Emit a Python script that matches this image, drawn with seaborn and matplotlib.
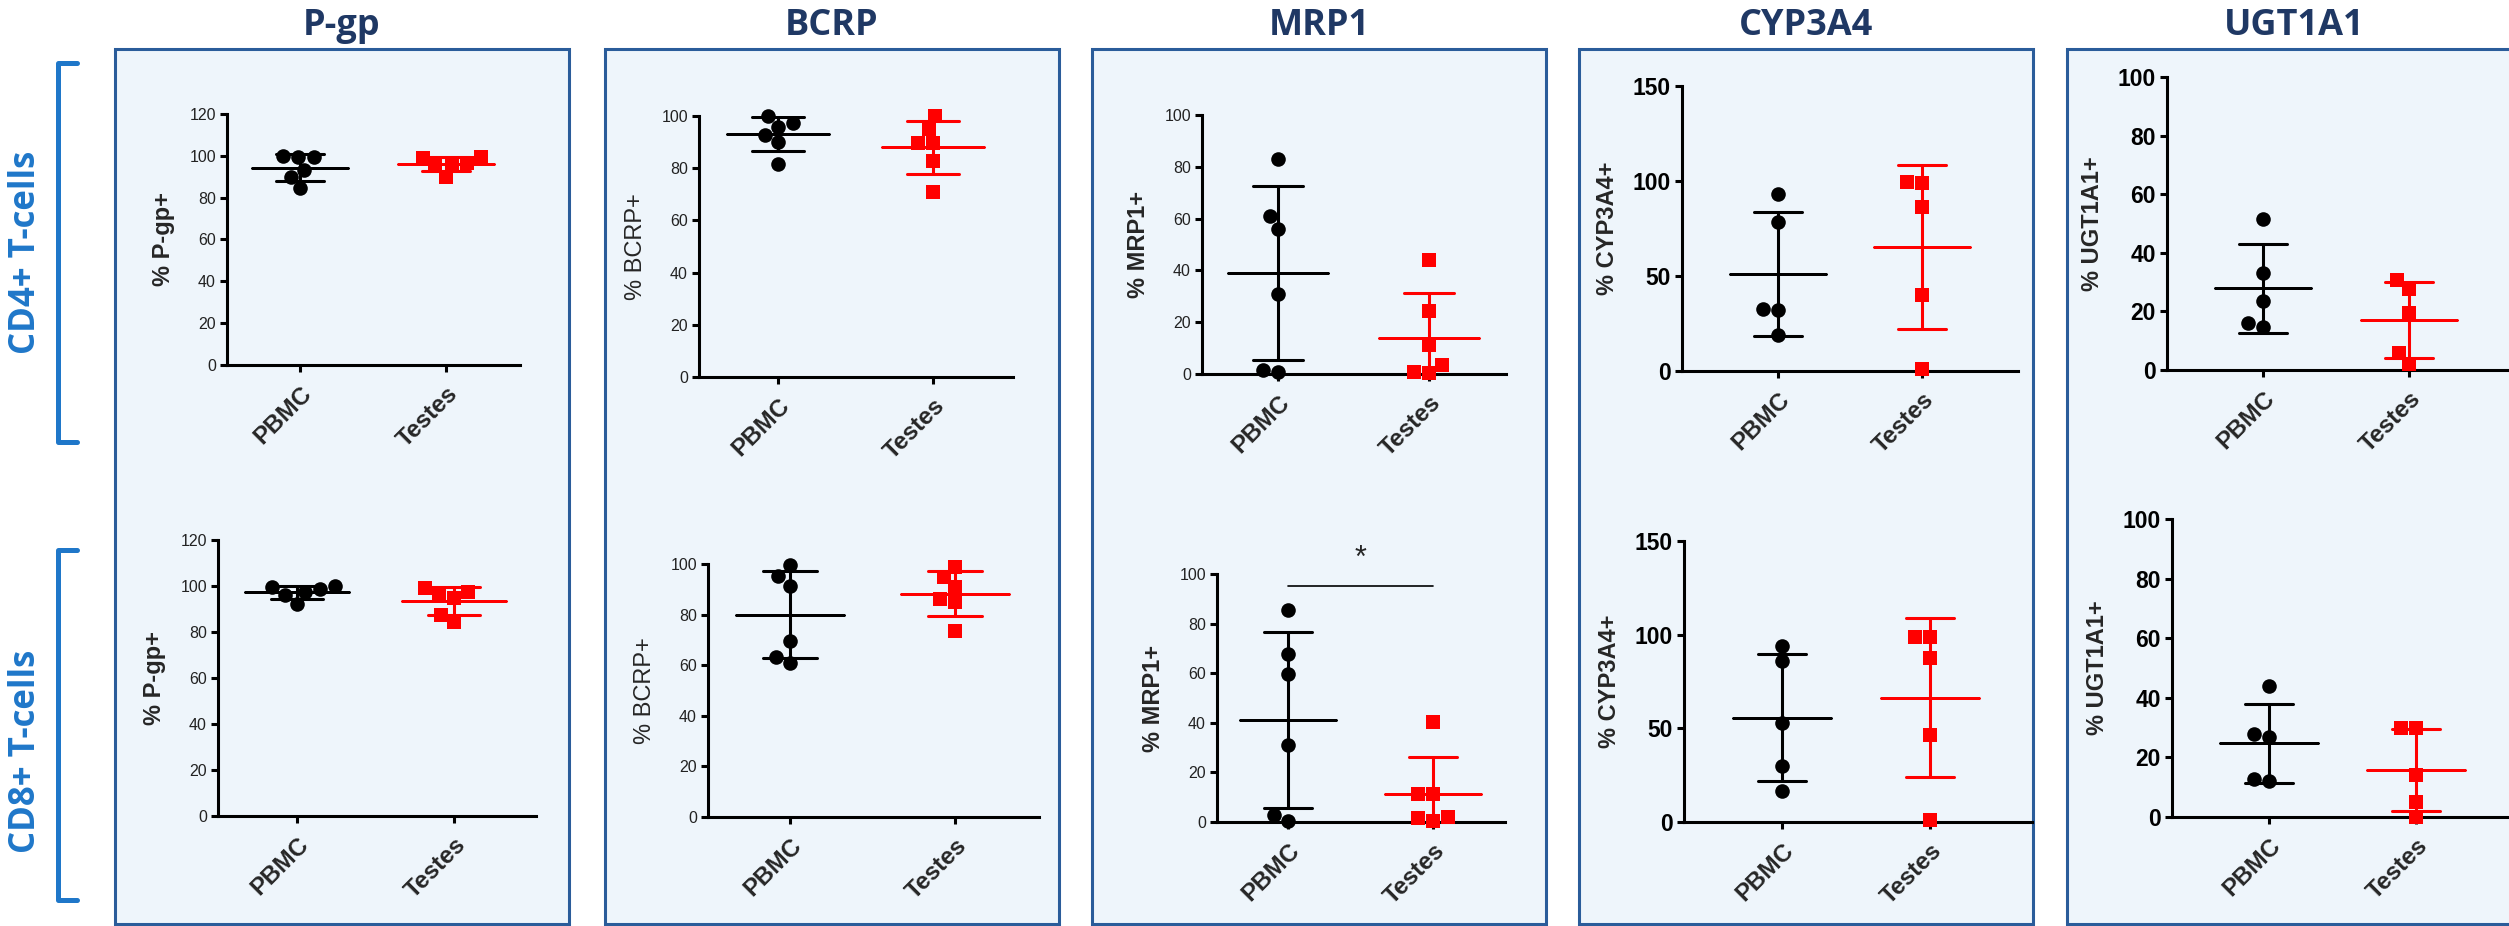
import matplotlib
matplotlib.use('Agg')
import matplotlib.pyplot as plt
from matplotlib.patches import Rectangle
from matplotlib.lines import Line2D
import pandas as pd
import seaborn as sns

# --- data ---
groups = ['PBMC', 'Testes']
marker_names = ['P-gp', 'BCRP', 'MRP1', 'CYP3A4', 'UGT1A1']
cell_rows = ['CD4+ T-cells', 'CD8+ T-cells']

pgp_cd4_pbmc = [100.0, 99.6, 99.4, 93.0, 90.0, 84.5]
pgp_cd4_testes = [99.5, 99.0, 96.5, 96.5, 95.0, 90.0]
pgp_cd8_pbmc = [100.0, 99.5, 98.5, 97.5, 96.0, 92.0]
pgp_cd8_testes = [99.3, 97.2, 96.8, 95.0, 87.3, 84.2]

bcrp_cd4_pbmc = [100.0, 97.4, 95.9, 92.7, 89.9, 81.8]
bcrp_cd4_testes = [100.0, 94.9, 89.8, 89.5, 82.6, 71.0]
bcrp_cd8_pbmc = [99.7, 95.1, 91.4, 69.6, 63.1, 61.0]
bcrp_cd8_testes = [98.9, 95.0, 90.9, 86.0, 85.0, 73.5]

mrp1_cd4_pbmc = [83.0, 61.0, 56.1, 31.0, 1.5, 0.6]
mrp1_cd4_testes = [44.0, 24.3, 11.2, 3.5, 0.9, 0.3]
mrp1_cd8_pbmc = [85.6, 67.7, 59.7, 30.9, 2.7, 0.5]
mrp1_cd8_testes = [40.2, 11.3, 11.3, 2.0, 1.6, 0.5]

cyp_cd4_pbmc = [93.3, 78.4, 32.8, 31.9, 19.1]
cyp_cd4_testes = [99.5, 98.9, 86.3, 39.8, 1.2]
cyp_cd8_pbmc = [93.7, 85.9, 52.9, 29.9, 16.4]
cyp_cd8_testes = [98.9, 98.5, 87.3, 46.3, 1.2]

ugt_cd4_pbmc = [51.7, 33.2, 23.5, 15.9, 14.8]
ugt_cd4_testes = [30.7, 27.8, 19.5, 5.7, 1.9]
ugt_cd8_pbmc = [44.0, 28.0, 26.7, 12.7, 12.1]
ugt_cd8_testes = [29.9, 29.9, 14.2, 5.0, 0.0]

y_max = {'P-gp': 120, 'BCRP': 100, 'MRP1': 100, 'CYP3A4': 150, 'UGT1A1': 100}
y_step = {'P-gp': 20, 'BCRP': 20, 'MRP1': 20, 'CYP3A4': 50, 'UGT1A1': 20}
sig_y = 95  # MRP1 CD8 significance bar

series = [
    ('P-gp', 0, pgp_cd4_pbmc, pgp_cd4_testes), ('P-gp', 1, pgp_cd8_pbmc, pgp_cd8_testes),
    ('BCRP', 0, bcrp_cd4_pbmc, bcrp_cd4_testes), ('BCRP', 1, bcrp_cd8_pbmc, bcrp_cd8_testes),
    ('MRP1', 0, mrp1_cd4_pbmc, mrp1_cd4_testes), ('MRP1', 1, mrp1_cd8_pbmc, mrp1_cd8_testes),
    ('CYP3A4', 0, cyp_cd4_pbmc, cyp_cd4_testes), ('CYP3A4', 1, cyp_cd8_pbmc, cyp_cd8_testes),
    ('UGT1A1', 0, ugt_cd4_pbmc, ugt_cd4_testes), ('UGT1A1', 1, ugt_cd8_pbmc, ugt_cd8_testes),
]
rows = []
for name, r, pb, te in series:
    rows += [(name, r, 'PBMC', v) for v in pb]
    rows += [(name, r, 'Testes', v) for v in te]
df = pd.DataFrame(rows, columns=['marker', 'row', 'group', 'value'])

# --- layout in pixels: (left, right, top, bottom, PBMC tick, Testes tick) ---
axes_px = {
    ('P-gp', 0): (227, 520, 114, 365, 300, 446),
    ('P-gp', 1): (218, 536, 540, 816, 297, 454),
    ('BCRP', 0): (699, 1013, 116, 377, 778, 933),
    ('BCRP', 1): (708, 1039, 564, 817, 790, 955),
    ('MRP1', 0): (1202, 1506, 115, 374, 1278, 1429),
    ('MRP1', 1): (1217, 1505, 574, 822, 1288, 1433),
    ('CYP3A4', 0): (1682, 2018, 86, 371, 1778, 1922),
    ('CYP3A4', 1): (1684, 2032, 541, 822, 1782, 1930),
    ('UGT1A1', 0): (2167, 2507, 77, 370, 2263, 2409),
    ('UGT1A1', 1): (2172, 2509, 519, 817, 2269, 2416),
}
box_left = [115, 605, 1092, 1579, 2067]
W, H = 2509, 926

sns.set_style('ticks')
plt.rcParams['font.family'] = ['Liberation Sans', 'DejaVu Sans']

fig = plt.figure(figsize=(W / 100, H / 100), dpi=100)

# blue framed boxes + titles
for name, x0 in zip(marker_names, box_left):
    fig.patches.append(Rectangle((x0 / W, 1 - 924 / H), 454 / W, 875 / H,
                                 transform=fig.transFigure, facecolor='#EEF5FB',
                                 edgecolor='#2A5C9A', linewidth=2.2, zorder=-5))
    fig.text((x0 + 227) / W, 1 - 26 / H, name, ha='center', va='center',
             fontsize=26, fontweight='bold', color='#1F3864', family=['Open Sans', 'DejaVu Sans'])

# row labels with brackets
for label, yc, (yt, yb) in zip(cell_rows, [252, 751], [(63, 442), (550, 900)]):
    fig.text(26 / W, 1 - yc / H, label, rotation=90, ha='center', va='center',
             fontsize=25, fontweight='bold', color='#1F77C9', family=['Open Sans', 'DejaVu Sans'])
    fig.add_artist(Line2D([77 / W, 58 / W, 58 / W, 77 / W],
                          [1 - yt / H, 1 - yt / H, 1 - yb / H, 1 - yb / H],
                          transform=fig.transFigure, color='#1F77C9', linewidth=3.6))

colors = {'PBMC': 'black', 'Testes': 'red'}
shapes = {'PBMC': 'o', 'Testes': 's'}

for (name, r), (l, rt, t, b, p0, p1) in axes_px.items():
    ax = fig.add_axes([l / W, 1 - b / H, (rt - l) / W, (b - t) / H])
    ax.set_facecolor('none')
    sub = df[(df['marker'] == name) & (df['row'] == r)]
    for g in groups:
        d = sub[sub['group'] == g]
        sns.swarmplot(data=d, x='group', y='value', order=groups, color=colors[g],
                      marker=shapes[g], size=10.5, linewidth=0, ax=ax, zorder=3, clip_on=False)
        # mean +/- SD
        sns.pointplot(data=d, x='group', y='value', order=groups, errorbar='sd',
                      capsize=0.33, color=colors[g], marker='', linestyle='none',
                      err_kws={'linewidth': 2.2, 'zorder': 4}, ax=ax)
        # mean line (zero-length error bar, drawn as a wide cap)
        sns.pointplot(data=d, x='group', y='value', order=groups, errorbar=('sd', 0),
                      capsize=0.66, color=colors[g], marker='', linestyle='none',
                      err_kws={'linewidth': 1.8, 'zorder': 4}, ax=ax)

    unit = p1 - p0
    ax.set_xlim(-(p0 - l) / unit, 1 + (rt - p1) / unit)
    ax.set_ylim(0, y_max[name])
    ax.set_yticks(range(0, y_max[name] + 1, y_step[name]))
    sns.despine(ax=ax)
    for s in ['left', 'bottom']:
        ax.spines[s].set_linewidth(2.2)
        ax.spines[s].set_color('black')
    big = name in ('CYP3A4', 'UGT1A1')
    ax.tick_params(axis='both', width=2.2, length=5, color='black')
    ax.tick_params(axis='y', labelsize=16.5 if big else 11.5, pad=3,
                   labelcolor='black' if big else '#222222')
    for lab in ax.get_yticklabels():
        lab.set_fontweight('bold' if big else 'normal')
    ax.set_xticks([0, 1])
    ax.set_xticklabels(groups, rotation=45, ha='right', rotation_mode='anchor')
    ax.tick_params(axis='x', pad=7)
    for lab in ax.get_xticklabels():
        lab.set_fontsize(17.5)
        lab.set_fontweight('bold')
    ax.set_xlabel('')
    ax.set_ylabel('% ' + name + '+', fontsize=17, labelpad=10,
                  fontweight='normal' if name == 'BCRP' else 'bold')

    if name == 'MRP1' and r == 1:
        ax.plot([0, 1], [sig_y, sig_y], color='black', linewidth=1.2, clip_on=False)
        ax.text(0.5, sig_y + 5, '*', ha='center', va='bottom', fontsize=22, clip_on=False)

fig.savefig('out.png', dpi=100)
